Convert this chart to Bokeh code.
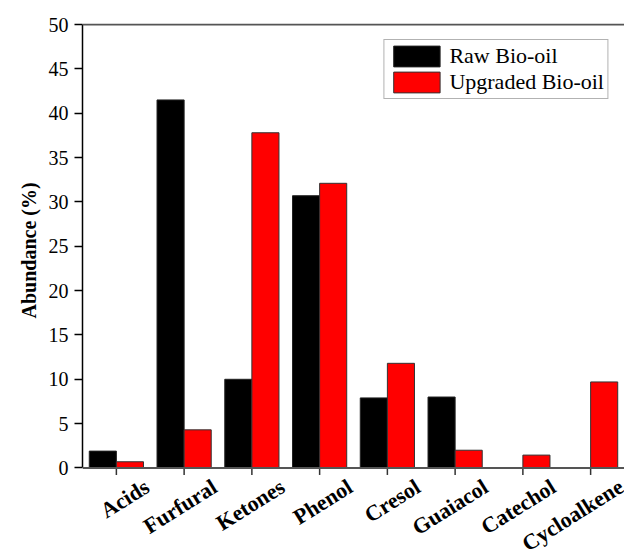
from bokeh.plotting import figure
from bokeh.models import (Range1d, FixedTicker, Legend, LegendItem,
                          ColumnDataSource, Span, Title)
from bokeh.core.properties import value
from bokeh.embed import file_html
from bokeh.resources import INLINE

categories = ["Acids", "Furfural", "Ketones", "Phenol", "Cresol",
              "Guaiacol", "Catechol", "Cycloalkene"]
raw_bio_oil = [1.9, 41.5, 10.0, 30.7, 7.9, 8.0, 0.0, 0.0]
upgraded_bio_oil = [0.7, 4.3, 37.8, 32.1, 11.8, 2.0, 1.45, 9.7]
y_ticks = [0, 5, 10, 15, 20, 25, 30, 35, 40, 45, 50]

FONT = "Liberation Serif"
bar_w = 0.4
Y_TOP = 50.12
Y_BOTTOM = -9.42   # frame extended below zero so category labels are drawable

centers = [i + 0.5 for i in range(len(categories))]
src = ColumnDataSource(dict(
    x_raw=[c - bar_w / 2 for c in centers],
    x_up=[c + bar_w / 2 for c in centers],
    raw=raw_bio_oil,
    up=upgraded_bio_oil,
))
lab_src = ColumnDataSource(dict(x=centers, y=[0] * len(centers), name=categories))

p = figure(width=624, height=551, output_backend="svg", toolbar_location=None,
           x_range=Range1d(0, len(categories)), y_range=Range1d(Y_BOTTOM, Y_TOP),
           min_border_left=82, min_border_right=0, min_border_top=23,
           min_border_bottom=0)
p.background_fill_color = "white"
p.border_fill_color = "white"
p.grid.visible = False
p.outline_line_color = None
p.xaxis.visible = False

r_raw = p.vbar(x="x_raw", top="raw", width=bar_w, source=src,
               fill_color="#000000", line_color="#222222", line_width=1)
r_up = p.vbar(x="x_up", top="up", width=bar_w, source=src,
              fill_color="#ff0000", line_color="#333333", line_width=1)

# x axis line, top frame line
p.add_layout(Span(location=0, dimension="width", line_color="#555555", line_width=2))
p.add_layout(Span(location=50, dimension="width", line_color="#555555", line_width=2))

# x tick marks at category centres
p.ray(x="x", y="y", length=7, length_units="screen", angle=-90,
      angle_units="deg", source=lab_src, line_color="#333333", line_width=1.5)

# category labels
p.text(x="x", y="y", text="name", source=lab_src, x_offset=24, y_offset=6,
       angle=0.56, angle_units="rad", text_align="right", text_baseline="top",
       text_font=value(FONT), text_font_size="22px", text_font_style="bold",
       text_color="black")

# y axis
yax = p.yaxis[0]
yax.bounds = (0, 50)
yax.ticker = FixedTicker(ticks=y_ticks)
yax.minor_tick_line_color = None
yax.major_tick_out = 8
yax.major_tick_in = 0
yax.major_tick_line_color = "black"
yax.major_tick_line_width = 1.5
yax.axis_line_color = "black"
yax.axis_line_width = 1.5
yax.major_label_text_font = FONT
yax.major_label_text_font_size = "20px"
yax.major_label_text_color = "black"
yax.major_label_standoff = 6

ytitle = Title(text="Abundance (%)", align="left", offset=233,
               text_font=FONT, text_font_size="20px", text_font_style="bold",
               text_color="black", standoff=12)
p.add_layout(ytitle, "left")

legend = Legend(items=[LegendItem(label="Raw Bio-oil", renderers=[r_raw]),
                       LegendItem(label="Upgraded Bio-oil", renderers=[r_up])],
                location="top_right")
legend.margin = 16
legend.padding = 3
legend.spacing = 0
legend.glyph_width = 58
legend.glyph_height = 26
legend.label_height = 26
legend.label_standoff = 4
legend.label_text_font = FONT
legend.label_text_font_size = "22px"
legend.label_text_color = "black"
legend.border_line_color = "#666666"
legend.border_line_width = 1
legend.background_fill_alpha = 1
p.add_layout(legend)

open("out.html", "w").write(file_html(p, INLINE))
